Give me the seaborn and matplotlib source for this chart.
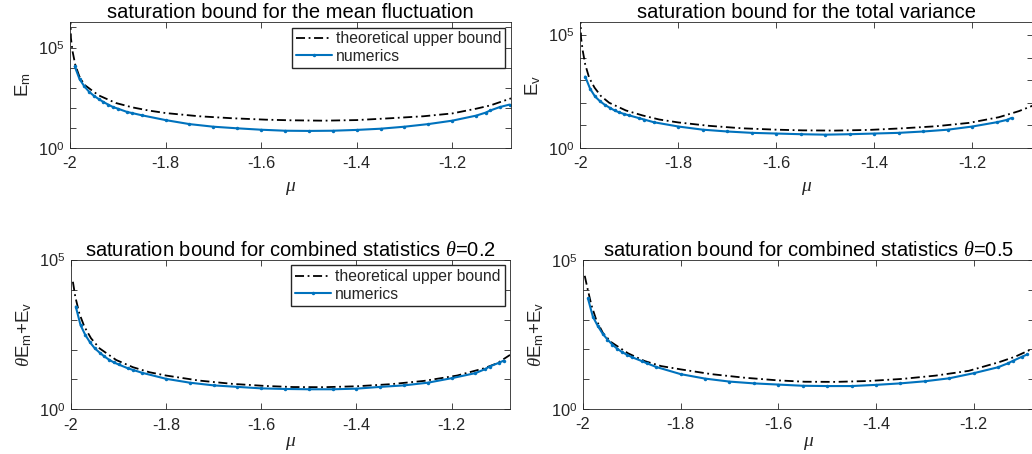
import numpy as np
import matplotlib
matplotlib.use("Agg")
import matplotlib.pyplot as plt
from matplotlib.ticker import FixedLocator, FuncFormatter, NullLocator
import seaborn as sns

# ---- data (y values stored as log10) ----
mu_ticks = [-2, -1.8, -1.6, -1.4, -1.2]
mu_tick_labels = ["-2", "-1.8", "-1.6", "-1.4", "-1.2"]

# numerics, mean fluctuation E_m
mu_num_m = [-1.99, -1.98, -1.97, -1.96, -1.95, -1.94, -1.93, -1.92, -1.91, -1.90,
            -1.88, -1.87, -1.85, -1.80, -1.75, -1.70, -1.65, -1.60, -1.55, -1.50,
            -1.45, -1.40, -1.35, -1.30, -1.25, -1.20, -1.15, -1.13, -1.12, -1.10, -1.08]
num_m_log = [4.06, 3.43, 3.07, 2.80, 2.60, 2.44, 2.29, 2.16, 2.04, 1.96,
             1.79, 1.74, 1.63, 1.39, 1.19, 1.06, 0.98, 0.91, 0.86, 0.85,
             0.86, 0.90, 0.96, 1.06, 1.19, 1.36, 1.61, 1.76, 1.87, 2.04, 2.16]
mu_bound_m = [-1.9993, -1.998, -1.9945, -1.989, -1.9805, -1.970, -1.956, -1.94, -1.904,
              -1.869, -1.834, -1.80, -1.73, -1.66, -1.59, -1.54, -1.47, -1.40, -1.33,
              -1.26, -1.20, -1.149, -1.12, -1.077]
bound_m_log = [6.6, 5.47, 4.8, 4.15, 3.57, 3.15, 2.90, 2.62, 2.24,
               2.02, 1.86, 1.74, 1.58, 1.48, 1.41, 1.38, 1.36, 1.39, 1.48,
               1.58, 1.72, 1.96, 2.12, 2.47]

# numerics, total variance E_v
mu_num_v = [-1.99, -1.98, -1.97, -1.96, -1.95, -1.94, -1.93, -1.92, -1.91, -1.90,
            -1.88, -1.87, -1.85, -1.80, -1.75, -1.70, -1.65, -1.60, -1.55, -1.50,
            -1.45, -1.40, -1.35, -1.30, -1.25, -1.20, -1.15, -1.13, -1.12]
num_v_log = [3.16, 2.62, 2.28, 2.07, 1.91, 1.78, 1.66, 1.57, 1.50, 1.44,
             1.32, 1.26, 1.14, 0.95, 0.81, 0.73, 0.67, 0.64, 0.61, 0.59,
             0.61, 0.64, 0.67, 0.73, 0.81, 0.95, 1.14, 1.24, 1.33]
mu_bound_v = [-1.9995, -1.9986, -1.995, -1.99, -1.982, -1.971, -1.958, -1.941, -1.907,
              -1.873, -1.839, -1.80, -1.737, -1.669, -1.60, -1.546, -1.48, -1.41,
              -1.343, -1.275, -1.207, -1.146, -1.105, -1.077]
bound_v_log = [5.9, 4.89, 4.30, 3.70, 3.11, 2.67, 2.30, 2.00, 1.66,
               1.44, 1.26, 1.13, 0.98, 0.87, 0.81, 0.78, 0.77, 0.80,
               0.87, 0.96, 1.11, 1.36, 1.63, 1.87]

# combined statistics, theta = 0.2 and theta = 0.5
mu_num_c = [-1.99, -1.98, -1.97, -1.96, -1.95, -1.94, -1.93, -1.92, -1.91, -1.90,
            -1.88, -1.87, -1.85, -1.80, -1.75, -1.70, -1.65, -1.60, -1.55, -1.50,
            -1.45, -1.40, -1.35, -1.30, -1.25, -1.20, -1.15, -1.13, -1.12, -1.10, -1.09]
num_c02_log = [3.44, 2.82, 2.49, 2.24, 2.04, 1.90, 1.77, 1.66, 1.57, 1.50,
               1.37, 1.32, 1.22, 1.02, 0.89, 0.80, 0.75, 0.70, 0.68, 0.67,
               0.67, 0.69, 0.75, 0.80, 0.89, 1.04, 1.21, 1.34, 1.43, 1.56, 1.63]
mu_bound_c02 = [-1.996, -1.991, -1.9825, -1.972, -1.958, -1.940, -1.905, -1.870, -1.835,
                -1.80, -1.73, -1.66, -1.59, -1.533, -1.469, -1.40, -1.328, -1.258,
                -1.188, -1.132, -1.104, -1.077]
bound_c02_log = [4.27, 3.77, 3.21, 2.77, 2.38, 2.04, 1.65, 1.41, 1.24,
                 1.13, 0.96, 0.85, 0.78, 0.745, 0.74, 0.77, 0.84, 0.95,
                 1.13, 1.37, 1.54, 1.82]
num_c05_log = [3.71, 3.10, 2.79, 2.53, 2.33, 2.16, 2.02, 1.91, 1.82, 1.74,
               1.61, 1.54, 1.41, 1.17, 1.02, 0.92, 0.86, 0.82, 0.78, 0.77,
               0.77, 0.81, 0.86, 0.93, 1.03, 1.20, 1.40, 1.53, 1.61, 1.76, 1.83]
mu_bound_c05 = [-1.9966, -1.991, -1.983, -1.973, -1.959, -1.942, -1.908, -1.874, -1.84,
                -1.80, -1.737, -1.669, -1.60, -1.546, -1.483, -1.415, -1.346, -1.278,
                -1.21, -1.148, -1.114, -1.077]
bound_c05_log = [4.47, 4.05, 3.49, 2.99, 2.54, 2.24, 1.87, 1.61, 1.44,
                 1.33, 1.17, 1.05, 0.96, 0.915, 0.91, 0.94, 1.01, 1.12,
                 1.28, 1.57, 1.76, 2.04]

titles = ["saturation bound for the mean fluctuation",
          "saturation bound for the total variance",
          r"saturation bound for combined statistics $\theta$=0.2",
          r"saturation bound for combined statistics $\theta$=0.5"]
ylabels = [r"E$_\mathrm{m}$", r"E$_\mathrm{v}$",
           r"$\theta$E$_\mathrm{m}$+E$_\mathrm{v}$", r"$\theta$E$_\mathrm{m}$+E$_\mathrm{v}$"]
ytops = [10**6.27, 10**5.57, 1e5, 1e5]

# ---- style ----
sns.set_style("ticks")
plt.rcParams["font.family"] = ["Liberation Sans", "DejaVu Sans"]
plt.rcParams["mathtext.fontset"] = "custom"
plt.rcParams["mathtext.rm"] = "Liberation Sans"
plt.rcParams["mathtext.it"] = "Liberation Serif:italic"
plt.rcParams["mathtext.sf"] = "Liberation Sans"
plt.rcParams["axes.unicode_minus"] = False

blue = "#0072BD"
axc = "0.15"

fig = plt.figure(figsize=(10.32, 4.54), dpi=100)
positions = [[0.0678, 0.674, 0.4273, 0.2775],
             [0.5623, 0.674, 0.4383, 0.2775],
             [0.0688, 0.0985, 0.4254, 0.3289],
             [0.5650, 0.0991, 0.4365, 0.3282]]
panels = [(mu_bound_m, bound_m_log, mu_num_m, num_m_log),
          (mu_bound_v, bound_v_log, mu_num_v, num_v_log),
          (mu_bound_c02, bound_c02_log, mu_num_c, num_c02_log),
          (mu_bound_c05, bound_c05_log, mu_num_c, num_c05_log)]
xlabelpads = [6, 6, 2, 2]

for i in range(4):
    ax = fig.add_axes(positions[i])
    mb, bl, mn, nl = panels[i]
    sns.lineplot(x=mb, y=10**np.array(bl), ax=ax, color="k", lw=1.3,
                 linestyle=(0, (5, 2, 1, 2)), estimator=None,
                 label="theoretical upper bound")
    sns.lineplot(x=mn, y=10**np.array(nl), ax=ax, color=blue, lw=1.5,
                 marker=".", markersize=5, markeredgewidth=0, estimator=None,
                 label="numerics")
    ax.set_yscale("log")
    ax.set_xlim(-2, -1.077)
    ax.set_ylim(1, ytops[i])
    ax.xaxis.set_major_locator(FixedLocator(mu_ticks))
    ax.set_xticklabels(mu_tick_labels)
    ax.yaxis.set_major_locator(FixedLocator([10.0**k for k in range(0, 7)]))
    ax.yaxis.set_major_formatter(FuncFormatter(
        lambda v, p: r"$10^{%d}$" % round(np.log10(v)) if round(np.log10(v)) in (0, 5) else ""))
    ax.yaxis.set_minor_locator(NullLocator())
    ax.tick_params(which="both", direction="in", top=True, right=True,
                   length=4, width=0.6, color=axc, labelcolor=axc, labelsize=11.8)
    ax.tick_params(axis="x", pad=6)
    ax.tick_params(axis="y", pad=4)
    for s in ax.spines.values():
        s.set_linewidth(0.6)
        s.set_color(axc)
    ax.set_title(titles[i], fontsize=14.5, pad=3, color="k")
    ax.set_xlabel(r"$\mu$", fontsize=14, labelpad=xlabelpads[i], color=axc)
    ax.set_ylabel(ylabels[i], fontsize=13.5, labelpad=4, color=axc)
    if i in (0, 2):
        ax.legend(loc="upper right", frameon=True, fancybox=False, framealpha=1,
                  edgecolor=axc, fontsize=11.3, handlelength=2.3, borderpad=0.25,
                  labelspacing=0.15, handletextpad=0.25, borderaxespad=0.35)
    else:
        ax.get_legend().remove()

fig.savefig("out.png", dpi=100)
